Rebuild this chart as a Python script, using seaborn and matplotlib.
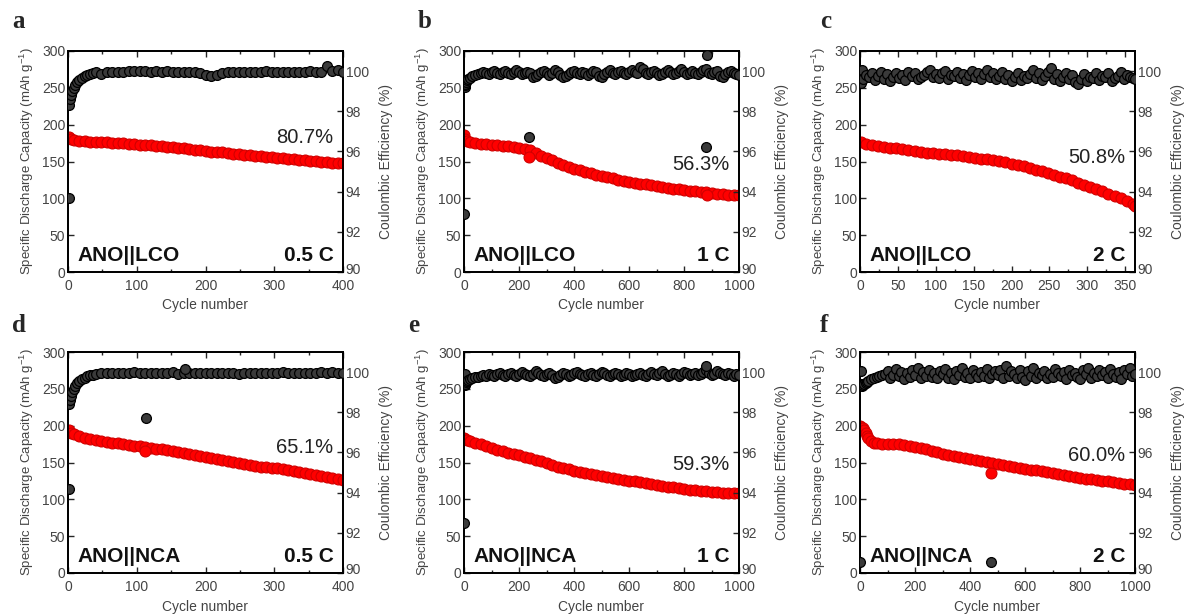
import numpy as np
import pandas as pd
import matplotlib
matplotlib.use("Agg")
import matplotlib.pyplot as plt
import matplotlib.transforms as mtransforms
from matplotlib.ticker import MultipleLocator
import seaborn as sns

sns.set_style("ticks")
plt.rcParams['font.family'] = ['Liberation Sans', 'DejaVu Sans']
plt.rcParams['mathtext.fontset'] = 'custom'
plt.rcParams['mathtext.rm'] = 'Liberation Sans'
plt.rcParams['mathtext.it'] = 'Liberation Sans'

# ---------------- data ----------------
# panel a : ANO||LCO 0.5 C
cap_a_cyc = [1, 4] + list(range(8, 401, 8))
cap_a = [183, 180.5,
         179, 178, 177.5, 177, 176.7, 176.3, 176, 175.5, 175, 174.5,
         174, 173.5, 173, 172.5, 172, 171.5, 171, 170.3, 169.7, 169,
         168, 167, 166, 165, 164.3, 163.5, 163, 162.3, 161.5, 160.8,
         160.2, 159.5, 158.8, 158, 157.2, 156.5, 155.7, 155, 154.3, 153.5,
         152.8, 152.2, 151.5, 151, 150.3, 149.6, 149, 148.4, 147.8, 147.3]
ce_a_cyc = [1, 2, 3, 4, 6, 8, 10, 13, 16, 20, 24, 28, 32, 36, 40] + list(range(48, 401, 8))
ce_a = [93.7, 98.3, 98.6, 98.8, 99.0, 99.15, 99.3, 99.45, 99.55, 99.65, 99.75, 99.82, 99.88, 99.9, 99.93,
        99.85, 99.93, 99.95, 99.97, 99.96, 99.98, 100.0, 100.02, 99.98, 99.97,
        100.0, 99.96, 99.98, 99.97, 99.95, 99.97, 99.96, 99.95, 99.9, 99.82,
        99.78, 99.8, 99.9, 99.93, 99.95, 99.96, 99.94, 99.95, 99.97, 99.95,
        99.98, 99.96, 99.95, 99.97, 99.96, 99.95, 99.97, 99.95, 99.98, 99.96,
        99.97, 100.25, 99.98, 100.05, 99.97]

# panel b : ANO||LCO 1 C
cap_b_cyc = [1, 5, 10] + list(range(20, 1001, 20)) + [235, 882]
cap_b = [185.5, 181, 178,
         176, 174.5, 173.8, 173.3, 173, 172.3, 171.5, 170.6, 169.5, 168,
         166.5, 165, 161.5, 158, 154.5, 151.5, 148.5, 145.5, 142.8, 140.3,
         138, 136, 134, 132, 130.3, 128.6, 127, 125.5, 124, 122.5,
         121.2, 120, 118.8, 117.6, 116.5, 115.3, 114.2, 113.2, 112.2, 111.3,
         110.5, 109.6, 108.8, 108, 107.2, 106.4, 105.6, 104.9, 104.3, 104,
         156, 104]
ce_b_cyc = [1, 2, 3, 5, 8, 12, 16, 20, 30, 40] + list(range(50, 1001, 10)) + [235, 880, 885]
ce_b = [92.9, 99.2, 99.3, 99.35, 99.45, 99.55, 99.6, 99.65, 99.75, 99.8,
        99.85, 99.9, 99.95, 99.9, 99.85, 99.95, 100.0, 99.9, 99.85, 99.95,
        100.0, 99.9, 99.85, 99.95, 100.05, 99.95, 99.85, 99.9, 99.95, 99.9,
        99.7, 99.75, 99.85, 99.95, 100.0, 99.9, 99.8, 99.9, 100.05, 99.95,
        99.8, 99.7, 99.75, 99.85, 99.95, 100.0, 99.9, 99.85, 99.95, 99.9,
        99.8, 99.9, 100.0, 99.95, 99.75, 99.7, 99.85, 99.95, 100.05, 99.9,
        99.85, 99.95, 100.0, 99.9, 99.85, 99.95, 100.05, 99.95, 99.9, 100.2,
        100.1, 99.9, 99.85, 99.95, 100.0, 99.9, 99.8, 99.85, 99.95, 100.05,
        99.95, 99.85, 99.9, 100.0, 100.1, 99.95, 99.85, 99.9, 100.0, 99.9,
        99.85, 99.95, 100.05, 100.1, 99.9, 99.85, 99.95, 100.0, 99.75, 99.7,
        99.85, 99.95, 100.0, 99.9, 99.85, 99.8,
        96.7, 96.2, 100.8]

# panel c : ANO||LCO 2 C
cap_c_cyc = [1] + list(range(8, 361, 8)) + [363]
cap_c = [176.5,
         173.5, 172.3, 171.3, 170.3, 169, 167.8, 166.6, 165.5, 164.4, 163.3,
         162.2, 161.2, 160.3, 159.6, 159, 158.3, 157.5, 156.4, 155.3, 154,
         153, 151.8, 150.4, 148.8, 147, 145.2, 143.3, 141.2, 139.1, 136.9,
         134.7, 132.2, 129.6, 127, 124.3, 121.4, 118.5, 115.8, 112.6, 109.4,
         106.2, 103, 99.8, 96.2, 92.6,
         90]
ce_c_cyc = [1, 2] + list(range(4, 361, 4)) + [363]
ce_c = [99.4, 100.05,
        99.6, 99.8, 99.7, 99.9, 99.55, 99.75, 99.95, 99.6, 99.85, 99.5,
        99.7, 99.9, 99.65, 99.8, 99.55, 99.95, 99.75, 99.9, 99.6, 99.7,
        99.8, 99.95, 100.05, 99.7, 99.85, 99.65, 99.9, 100.0, 99.6, 99.8,
        99.75, 99.95, 99.65, 99.85, 99.55, 99.8, 100.0, 99.7, 99.9, 99.6,
        99.85, 100.05, 99.7, 99.9, 99.6, 99.75, 99.95, 99.6, 99.8, 99.5,
        99.7, 99.9, 99.55, 99.75, 99.65, 99.85, 100.05, 99.65, 99.9, 99.55,
        99.75, 99.95, 100.15, 99.6, 99.85, 99.5, 99.7, 99.9, 99.6, 99.8,
        99.45, 99.35, 99.6, 99.85, 99.5, 99.7, 99.65, 99.9, 99.55, 99.75,
        99.7, 99.9, 99.5, 99.65, 99.75, 99.95, 99.6, 99.8, 99.7, 99.65,
        99.6]

# panel d : ANO||NCA 0.5 C
cap_d_cyc = [1, 4] + list(range(8, 401, 8)) + [112]
cap_d = [193.7, 190.5,
         188.5, 185.5, 183.3, 181.5, 180, 179, 178, 177, 176, 175,
         174, 173, 172, 171.2, 170.2, 169, 168, 166.8, 165.6, 164.4,
         163.2, 162, 160.6, 159.2, 157.8, 156.5, 155.2, 153.8, 152.3, 150.8,
         149.4, 148, 146.8, 145.6, 144.5, 143.6, 142.8, 142, 141, 140,
         138.8, 137.5, 136.2, 134.9, 133.5, 132, 130.5, 129, 127.6, 126,
         165]
ce_d_cyc = [1, 2, 3, 4, 6, 8, 10, 13, 16, 20, 24, 28, 32, 36, 40] + list(range(48, 401, 8)) + [113, 170]
ce_d = [94.2, 98.4, 98.6, 98.8, 99.0, 99.15, 99.3, 99.45, 99.55, 99.65, 99.72, 99.8, 99.85, 99.88, 99.9,
        99.93, 99.95, 99.96, 99.95, 99.97, 99.96, 99.98, 99.95, 99.97, 99.96,
        99.95, 99.97, 99.96, 99.98, 99.9, 99.95, 99.96, 99.97, 99.95, 99.96,
        99.97, 99.95, 99.96, 99.94, 99.95, 99.92, 99.96, 99.97, 99.95, 99.96,
        99.97, 99.95, 99.96, 99.98, 99.95, 99.96, 99.97, 99.95, 99.96, 99.97,
        99.98, 99.96, 100.0, 99.97, 99.96,
        97.7, 100.15]

# panel e : ANO||NCA 1 C
cap_e_cyc = [1, 5, 10] + list(range(20, 1001, 20))
cap_e = [183, 181.5, 180.3,
         179.3, 176.8, 174.8, 172, 169.7, 167.5, 165.2, 163.2, 161.4, 159.7,
         157.8, 156, 154, 151.6, 149.2, 146.8, 144.5, 142.4, 140.6, 139,
         137.5, 136, 134.5, 133.2, 132, 130.8, 129.6, 128.2, 126.6, 125.2,
         124.3, 123.5, 122.6, 121.4, 120, 118.6, 117.3, 116.2, 115, 114,
         113.2, 112.4, 111.7, 111, 110.3, 109.7, 109.1, 108.6, 108.2, 108]
ce_e_cyc = [1, 2, 3, 5, 8, 12, 16, 20, 30, 40] + list(range(50, 1001, 10)) + [880]
ce_e = [92.5, 99.9, 99.35, 99.4, 99.5, 99.55, 99.6, 99.65, 99.7, 99.75,
        99.75, 99.8, 99.85, 99.8, 99.9, 99.85, 99.8, 99.9, 99.95, 99.85,
        99.8, 99.9, 99.95, 99.85, 99.8, 99.9, 100.0, 99.9, 99.85, 99.8,
        99.9, 100.05, 99.95, 99.85, 99.8, 99.9, 99.95, 99.85, 99.7, 99.75,
        99.85, 99.95, 99.9, 99.8, 99.85, 99.95, 100.0, 99.9, 99.85, 99.8,
        99.9, 99.95, 99.85, 99.8, 99.9, 100.0, 99.95, 99.85, 99.8, 99.9,
        99.95, 99.9, 99.8, 99.85, 99.95, 99.9, 99.8, 99.85, 99.9, 99.95,
        99.85, 99.8, 99.9, 100.0, 99.9, 99.85, 99.95, 100.05, 99.9, 99.8,
        99.85, 99.95, 99.9, 99.8, 99.9, 100.0, 99.95, 99.85, 99.9, 99.95,
        99.85, 99.9, 100.0, 100.1, 99.95, 99.85, 99.9, 100.05, 99.95, 99.9,
        99.85, 99.95, 99.9, 99.8, 99.9, 99.85,
        100.3]

# panel f : ANO||NCA 2 C
cap_f_cyc = [1, 5, 10, 15, 20, 25, 30, 40, 50, 60, 80] + list(range(100, 1001, 20)) + [478]
cap_f = [199, 198.5, 196.8, 193.5, 190, 186.5, 183, 179.5, 177, 175.8, 175.5,
         175.5, 175, 174.6, 174, 173, 171.5, 169.8, 167.8, 165.8, 163.8,
         162, 160.5, 159, 157.6, 156.2, 154.8, 153.2, 151.6, 150.2, 149,
         148, 146.8, 145.5, 144, 142.5, 141, 140.2, 139.4, 138.6, 137,
         135.7, 134.4, 133.1, 131.7, 130.3, 129, 128, 127.1, 126.2, 125.3,
         124.5, 123.5, 122.5, 121.4, 120.2, 119.2,
         135.7]
ce_f_cyc = [1, 2, 3, 5, 8, 12, 16, 20, 25, 30, 40, 50, 60, 70, 80, 90] + list(range(100, 1001, 10)) + [478]
ce_f = [90.55, 100.05, 99.4, 99.35, 99.3, 99.35, 99.4, 99.45, 99.5, 99.55, 99.65, 99.7, 99.75, 99.8, 99.85, 99.9,
        100.05, 99.7, 99.85, 100.15, 99.8, 100.0, 99.65, 99.95, 99.75, 100.1,
        99.85, 100.2, 99.7, 100.0, 99.8, 100.1, 99.75, 99.95, 99.7, 100.05,
        99.9, 100.15, 99.7, 99.95, 99.65, 100.05, 99.85, 100.2, 99.75, 99.95,
        99.7, 100.1, 99.9, 99.75, 100.0, 99.8, 100.15, 99.7, 99.9, 100.05,
        99.85, 100.1, 99.7, 100.3, 99.8, 100.05, 99.9, 99.7, 100.1, 99.75,
        99.6, 100.05, 99.8, 100.2, 99.7, 99.95, 99.85, 100.05, 99.7, 99.9,
        99.75, 100.15, 99.95, 99.8, 100.0, 99.65, 100.1, 99.85, 99.95, 99.75,
        99.65, 100.1, 99.9, 100.2, 99.7, 99.95, 99.8, 100.1, 99.85, 100.0,
        99.7, 100.15, 99.9, 99.75, 100.0, 99.65, 100.1, 99.9, 100.2, 99.8,
        99.9,
        90.55]

panel_letters = ['a', 'b', 'c', 'd', 'e', 'f']
cells = ['ANO||LCO', 'ANO||LCO', 'ANO||LCO', 'ANO||NCA', 'ANO||NCA', 'ANO||NCA']
rates = ['0.5 C', '1 C', '2 C', '0.5 C', '1 C', '2 C']
retention = ['80.7%', '56.3%', '50.8%', '65.1%', '59.3%', '60.0%']
x_max = [400, 1000, 363, 400, 1000, 1000]
x_major = [100, 200, 50, 100, 200, 200]
cap_cycles = [cap_a_cyc, cap_b_cyc, cap_c_cyc, cap_d_cyc, cap_e_cyc, cap_f_cyc]
cap_vals = [cap_a, cap_b, cap_c, cap_d, cap_e, cap_f]
ce_cycles = [ce_a_cyc, ce_b_cyc, ce_c_cyc, ce_d_cyc, ce_e_cyc, ce_f_cyc]
ce_vals = [ce_a, ce_b, ce_c, ce_d, ce_e, ce_f]
ret_y = [0.61, 0.485, 0.52, 0.57, 0.49, 0.53]

# ---------------- figure ----------------
fig = plt.figure(figsize=(11.84, 6.15), dpi=100)
col_x = [68 / 1184, 464 / 1184, 860 / 1184]
row_y = [1 - 272 / 615, 1 - 573 / 615]
w = 275 / 1184
h = 221 / 615
letter_pos = [(12, 22), (418, 22), (820, 22), (12, 325), (408, 325), (820, 325)]

label_col = '#444444'
lift = mtransforms.ScaledTranslation(0, 4 / 100, fig.dpi_scale_trans)

for i in range(6):
    r, c = divmod(i, 3)
    ax = fig.add_axes([col_x[c], row_y[r], w, h])
    ax2 = ax.twinx()

    df_cap = pd.DataFrame({'cycle': cap_cycles[i], 'cap': cap_vals[i]})
    df_ce = pd.DataFrame({'cycle': ce_cycles[i], 'ce': ce_vals[i]})

    sns.scatterplot(data=df_cap, x='cycle', y='cap', ax=ax, s=62, color='#ff0000',
                    edgecolor='#d00000', linewidth=0.8, zorder=3, legend=False)
    sns.scatterplot(data=df_ce, x='cycle', y='ce', ax=ax2, s=50, color='#3a3a3a',
                    edgecolor='black', linewidth=0.9, zorder=3, legend=False)

    ax.set_xlim(0, x_max[i])
    ax.set_ylim(0, 300)
    ax2.set_ylim(90, 101)
    ax.xaxis.set_major_locator(MultipleLocator(x_major[i]))
    ax.xaxis.set_minor_locator(MultipleLocator(x_major[i] / 2))
    ax.yaxis.set_major_locator(MultipleLocator(50))
    ax2.set_yticks([90, 92, 94, 96, 98, 100])

    ax.tick_params(axis='x', which='both', direction='in', top=True, bottom=True,
                   labelsize=10, labelcolor=label_col, pad=5)
    ax.tick_params(axis='x', which='major', length=4, width=1)
    ax.tick_params(axis='x', which='minor', length=2.5, width=1)
    ax.tick_params(axis='y', which='major', direction='in', length=4, width=1,
                   labelsize=10, labelcolor=label_col, pad=2)
    ax2.tick_params(axis='y', which='major', direction='in', length=4, width=1,
                    labelsize=10, labelcolor=label_col, pad=2)

    # the bottom "90" label sits slightly above its tick, as in the original
    fig.canvas.draw()
    for lab in ax2.get_yticklabels():
        if lab.get_text() == '90':
            lab.set_transform(lab.get_transform() + lift)

    for sp in list(ax.spines.values()) + list(ax2.spines.values()):
        sp.set_visible(True)
        sp.set_linewidth(1.3)
        sp.set_color('black')

    ax.set_xlabel('Cycle number', fontsize=10, color=label_col, labelpad=4)
    ax.set_ylabel('Specific Discharge Capacity (mAh g$^{\\mathregular{-1}}$)', fontsize=9.5,
                  color=label_col, labelpad=4)
    ax2.set_ylabel('Coulombic Efficiency (%)', fontsize=10, color=label_col, labelpad=7)

    ax.text(0.035, 0.075, cells[i], transform=ax.transAxes, fontsize=15, fontweight='bold',
            ha='left', va='center', color='#111111', zorder=1)
    ax.text(0.965, 0.075, rates[i], transform=ax.transAxes, fontsize=15, fontweight='bold',
            ha='right', va='center', color='#111111', zorder=1)
    ax.text(0.965, ret_y[i], retention[i], transform=ax.transAxes, fontsize=14.5,
            ha='right', va='center', color='#222222', zorder=1)

    lx, ly = letter_pos[i]
    fig.text(lx / 1184, 1 - ly / 615, panel_letters[i], fontsize=18, fontweight='bold',
             family=['Liberation Serif', 'DejaVu Serif'], ha='left', va='center')

fig.savefig('out.png', dpi=100)
